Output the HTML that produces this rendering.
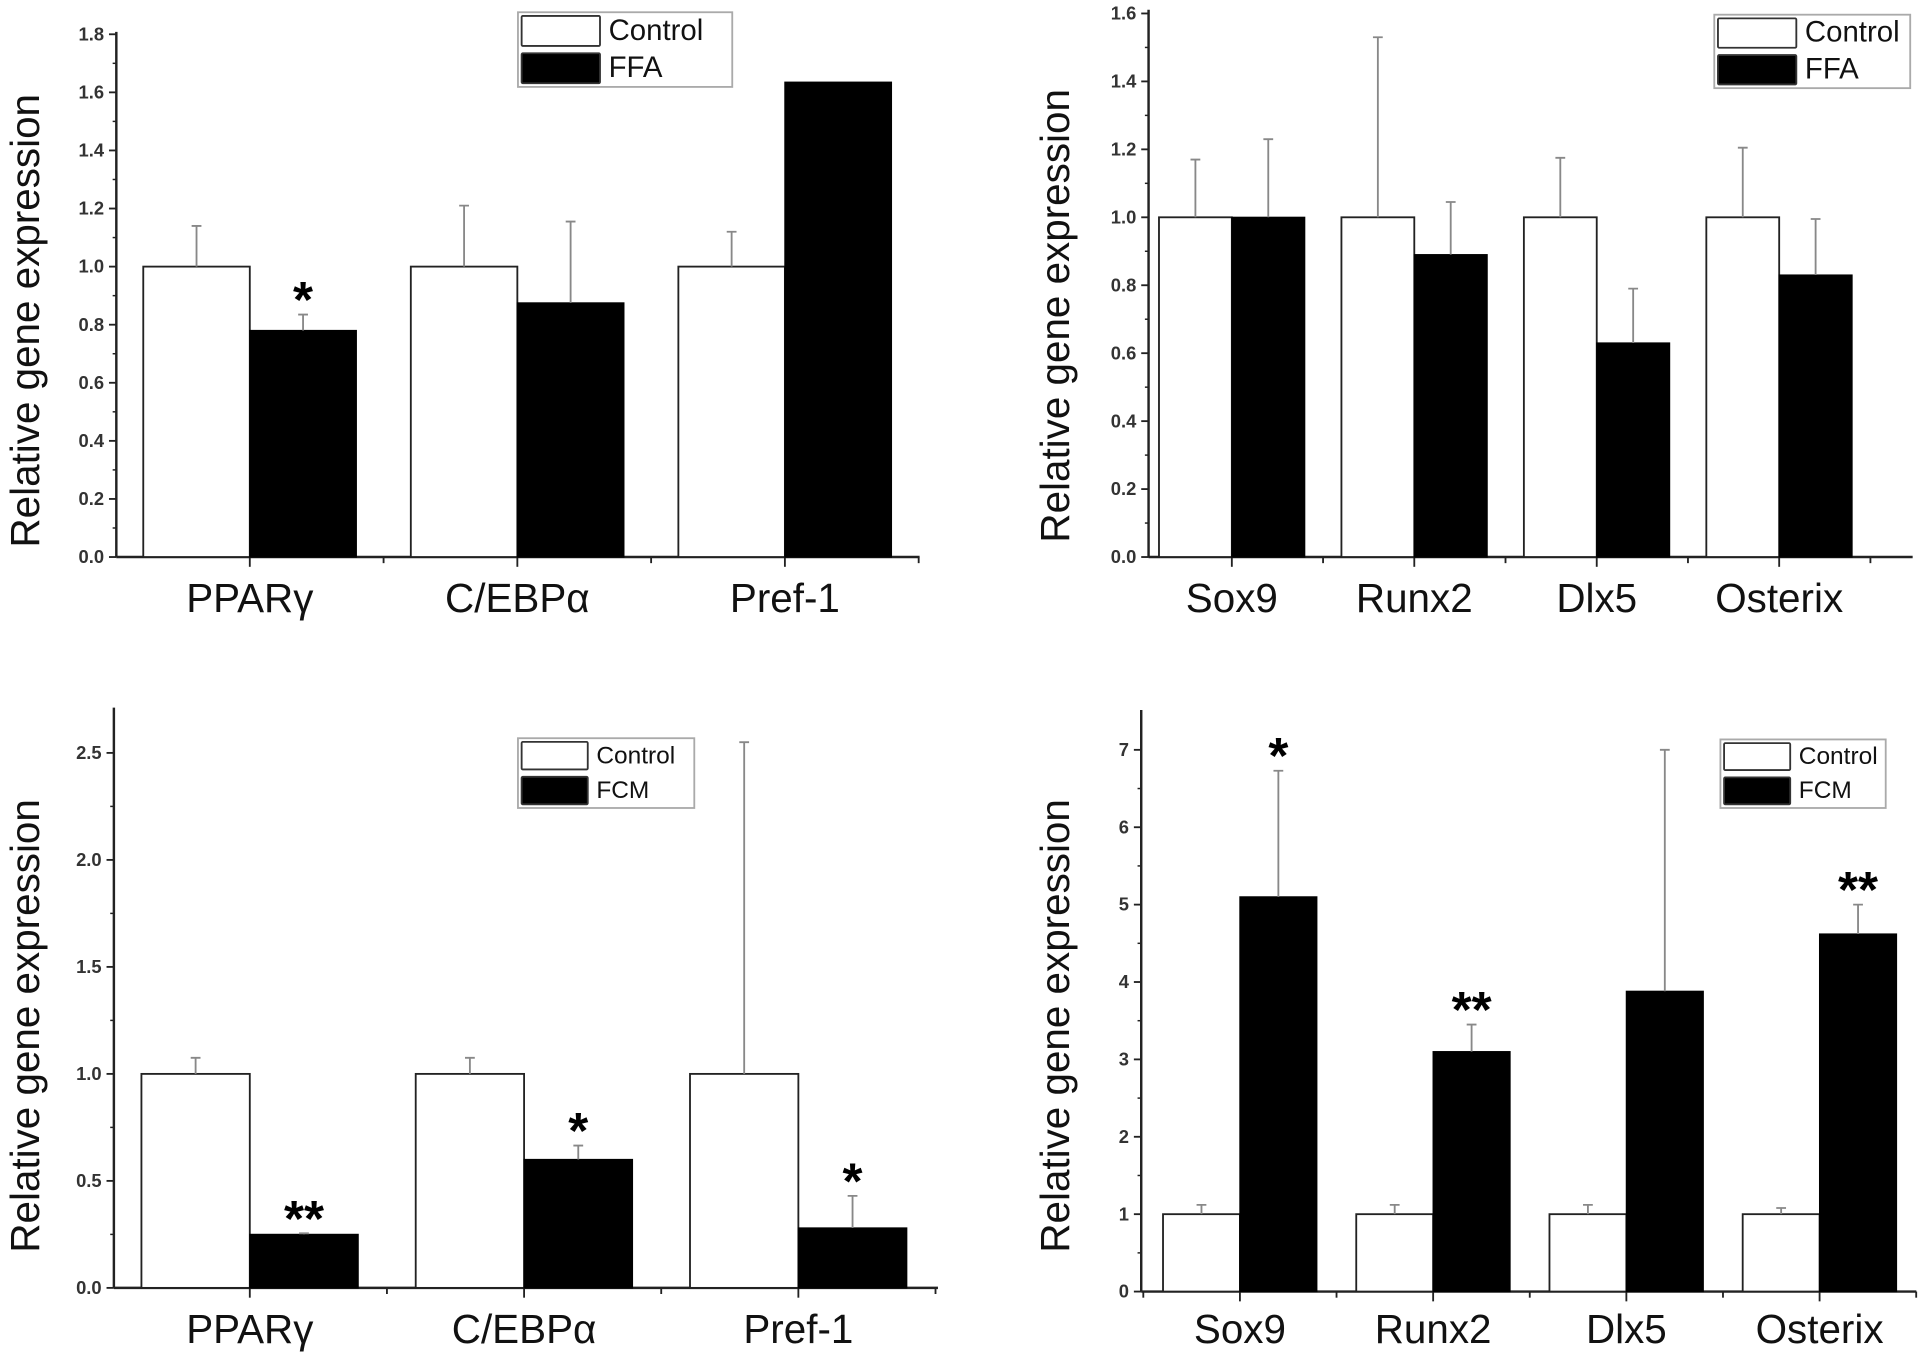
<!DOCTYPE html>
<html><head><meta charset="utf-8">
<style>
html,body{margin:0;padding:0;background:#fff;}
svg{display:block;}
text{font-family:"Liberation Sans",Arial,sans-serif;}
</style></head>
<body>
<svg id="fig" width="1920" height="1354" viewBox="0 0 1568 1106" preserveAspectRatio="none" xmlns="http://www.w3.org/2000/svg"></svg>
<script>
// Panel A (top-left)
const aCategories = ["PPARγ","C/EBPα","Pref-1"];
const aControl = [1.0, 1.0, 1.0];
const aControlErr = [1.14, 1.21, 1.12];
const aTreat = [0.78, 0.875, 1.635];
const aTreatErr = [0.835, 1.155, null];
const aStars = ["*", "", ""];
const aTicks = ["0.0","0.2","0.4","0.6","0.8","1.0","1.2","1.4","1.6","1.8"];
const aLegend = ["Control","FFA"];
// Panel B (top-right)
const bCategories = ["Sox9","Runx2","Dlx5","Osterix"];
const bControl = [1.0, 1.0, 1.0, 1.0];
const bControlErr = [1.17, 1.53, 1.175, 1.205];
const bTreat = [1.0, 0.89, 0.63, 0.83];
const bTreatErr = [1.23, 1.045, 0.79, 0.995];
const bStars = ["", "", "", ""];
const bTicks = ["0.0","0.2","0.4","0.6","0.8","1.0","1.2","1.4","1.6"];
const bLegend = ["Control","FFA"];
// Panel C (bottom-left)
const cCategories = ["PPARγ","C/EBPα","Pref-1"];
const cControl = [1.0, 1.0, 1.0];
const cControlErr = [1.075, 1.075, 2.55];
const cTreat = [0.25, 0.6, 0.28];
const cTreatErr = [0.255, 0.665, 0.43];
const cStars = ["**", "*", "*"];
const cTicks = ["0.0","0.5","1.0","1.5","2.0","2.5"];
const cLegend = ["Control","FCM"];
// Panel D (bottom-right)
const dCategories = ["Sox9","Runx2","Dlx5","Osterix"];
const dControl = [1, 1, 1, 1];
const dControlErr = [1.12, 1.12, 1.12, 1.08];
const dTreat = [5.1, 3.1, 3.88, 4.62];
const dTreatErr = [6.73, 3.45, 7.0, 5.0];
const dStars = ["*", "**", "", "**"];
const dTicks = ["0","1","2","3","4","5","6","7"];
const dLegend = ["Control","FCM"];

const NS = "http://www.w3.org/2000/svg";
const svg = document.getElementById("fig");
function mk(tag, attrs, parent, txt){
  const e = document.createElementNS(NS, tag);
  for (const k in attrs) e.setAttribute(k, attrs[k]);
  if (txt !== undefined) e.textContent = txt;
  (parent || svg).appendChild(e);
  return e;
}

function panel(id, cfg, cats, ctrl, ctrlErr, trt, trtErr, stars, ticks, legend){
  const g = mk("g", {});
  
  
  const tickVals = ticks.map(Number);
  const tmax = tickVals[tickVals.length - 1];
  const y = v => cfg.y0 - (v / tmax) * (cfg.y0 - cfg.yTop);
  const barW = cfg.barW;
  const cx = i => cfg.x0 + cfg.firstCenter + i * cfg.step;

  const ya = mk("line", {x1:cfg.x0, y1:cfg.axisTop, x2:cfg.x0, y2:cfg.y0, stroke:"#222", "stroke-width":2}, g);
  
  
  const xa = mk("line", {x1:cfg.x0, y1:cfg.y0, x2:cfg.xEnd, y2:cfg.y0, stroke:"#222", "stroke-width":2}, g);
  
  
  tickVals.forEach((v, i) => {
    const ty = y(v);
    mk("line", {x1:cfg.x0 - 6, y1:ty, x2:cfg.x0, y2:ty, stroke:"#222", "stroke-width":1.5}, g);
    const t = mk("text", {x:cfg.x0 - 10, y:ty + 5, "text-anchor":"end", "font-size":15, "font-weight":"bold", fill:"#333"}, g, ticks[i]);
    
    
    if (i < tickVals.length - 1) {
      const my = y((v + tickVals[i+1]) / 2);
      mk("line", {x1:cfg.x0 - 3, y1:my, x2:cfg.x0, y2:my, stroke:"#222", "stroke-width":1.2}, g);
    }
  });
  const yt = mk("text", {x:0, y:0, transform:`translate(${cfg.titleX},${cfg.titleY}) rotate(-90)`, "text-anchor":"middle", "font-size":33, fill:"#111"}, g, "Relative gene expression");
  
  

  for (let i = 0; i <= cats.length; i++) {
    const bx = cfg.x0 + cfg.firstCenter - cfg.step/2 + i * cfg.step;
    if (bx > cfg.x0 && bx <= cfg.xEnd) mk("line", {x1:bx, y1:cfg.y0, x2:bx, y2:cfg.y0 + 5, stroke:"#222", "stroke-width":1.5}, g);
  }
  cats.forEach((c, i) => {
    const x = cx(i);
    mk("line", {x1:x, y1:cfg.y0, x2:x, y2:cfg.y0 + 8, stroke:"#222", "stroke-width":1.5}, g);
    const r1 = mk("rect", {x:x - barW, y:y(ctrl[i]), width:barW, height:cfg.y0 - y(ctrl[i]), fill:"#fff", stroke:"#222", "stroke-width":1.5}, g);
    
    
    const r2 = mk("rect", {x:x, y:y(trt[i]), width:barW, height:cfg.y0 - y(trt[i]), fill:"#000", stroke:"#000", "stroke-width":1}, g);
    
    
    [[x - barW/2, ctrl[i], ctrlErr[i]], [x + barW/2, trt[i], trtErr[i]]].forEach(([ex, v, e]) => {
      if (e === null || e === undefined) return;
      const el = mk("path", {d:`M${ex},${y(v)}V${y(e)}M${ex-4},${y(e)}H${ex+4}`, stroke:"#888", "stroke-width":1.5, fill:"none"}, g);
      
      
    });
    if (stars[i]) {
      const capY = y(trtErr[i] || trt[i]);
      const st = mk("text", {x:x + barW/2, y:capY + 2, "text-anchor":"middle", "font-size":42, "font-weight":"bold", fill:"#000"}, g, stars[i]);
      
      
    }
    const xl = mk("text", {x:x, y:cfg.labelY, "text-anchor":"middle", "font-size":cfg.labelSize, fill:"#111"}, g, c);
    
    
  });

  const L = cfg.legend;
  const lg = mk("g", {}, g);
  
  
  mk("rect", {x:L.x, y:L.y, width:L.w, height:L.h, fill:"#fff", stroke:"#aaa", "stroke-width":1.5}, lg);
  const rowH = L.h / 2;
  legend.forEach((name, k) => {
    const sy = L.y + 3 + k * rowH;
    const sw = mk("rect", {x:L.x + 3, y:sy, width:L.sw, height:rowH - 6, fill:k ? "#000" : "#fff", stroke:"#333", "stroke-width":1.5, rx:1}, lg);
    
    
    const lt = mk("text", {x:L.x + L.sw + 10, y:sy + rowH - 11, "font-size":L.fs, fill:"#111"}, lg, name);
    
    
  });
}

panel("panel-a", {x0:95, xEnd:751, y0:455, yTop:28, axisTop:26, firstCenter:109, step:218.5, barW:87,
  titleX:32, titleY:262, labelY:500, labelSize:33,
  legend:{x:423, y:10, w:175, h:61, sw:64, fs:24}}, aCategories, aControl, aControlErr, aTreat, aTreatErr, aStars, aTicks, aLegend);

panel("panel-b", {x0:938, xEnd:1562, y0:455, yTop:11, axisTop:8, firstCenter:68, step:149, barW:59.5,
  titleX:873, titleY:258, labelY:500, labelSize:33,
  legend:{x:1400, y:12, w:160, h:60, sw:64, fs:24}}, bCategories, bControl, bControlErr, bTreat, bTreatErr, bStars, bTicks, bLegend);

panel("panel-c", {x0:93, xEnd:766, y0:1052, yTop:615, axisTop:578, firstCenter:111, step:224, barW:88.5,
  titleX:32, titleY:838, labelY:1097, labelSize:33,
  legend:{x:423, y:603, w:144, h:57, sw:54, fs:20}}, cCategories, cControl, cControlErr, cTreat, cTreatErr, cStars, cTicks, cLegend);

panel("panel-d", {x0:932, xEnd:1565, y0:1055, yTop:612.5, axisTop:580, firstCenter:80.6, step:157.8, barW:62.8,
  titleX:873, titleY:838, labelY:1097, labelSize:33,
  legend:{x:1405, y:604, w:135, h:56, sw:54, fs:20}}, dCategories, dControl, dControlErr, dTreat, dTreatErr, dStars, dTicks, dLegend);
</script>
</body></html>
